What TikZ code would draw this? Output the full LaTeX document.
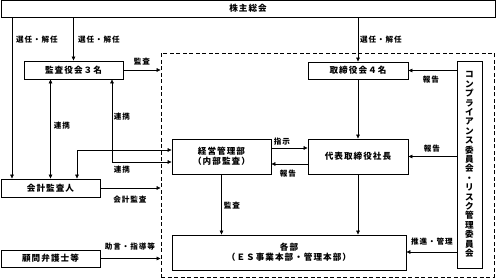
\documentclass[tikz,border=0pt]{standalone}
\usepackage{fontspec}
\setmainfont{Noto Sans CJK JP}[LetterSpace=12]
\usetikzlibrary{arrows.meta}

\begin{document}
\begin{tikzpicture}[
  x=1pt, y=-1pt,
  font=\fontsize{8.6}{10}\selectfont\bfseries,
  box/.style={draw, line width=0.6pt, inner sep=0pt, align=center},
  grp/.style={draw, dashed, dash pattern=on 4pt off 2.5pt, line width=0.6pt, inner sep=0pt},
  lbl/.style={font=\fontsize{7.6}{9}\selectfont\bfseries, inner sep=0pt},
  arr/.style={-{Latex[length=4pt,width=4pt]}, line width=0.5pt},
  barr/.style={{Latex[length=4pt,width=4pt]}-{Latex[length=4pt,width=4pt]}, line width=0.5pt}
]
\useasboundingbox (0,0) rectangle (496,280);

% top: shareholders
\node[box, minimum width=494pt, minimum height=17pt] (soukai) at (248,8.5) {株主総会};

% dashed frame of the executing side
\node[grp, minimum width=333pt, minimum height=224pt] (frame) at (327.5,165) {};

% left column
\node[box, minimum width=99pt, minimum height=18pt] (kansa) at (73.5,70) {監査役会３名};
\node[box, minimum width=99pt, minimum height=18pt] (kaikei) at (50.5,188) {会計監査人};
\node[box, minimum width=99pt, minimum height=17pt] (komon) at (50.5,258.5) {顧問弁護士等};

% inside the frame
\node[box, minimum width=100pt, minimum height=17pt] (torishi) at (358,70.5) {取締役会４名};
\node[box, minimum width=99pt, minimum height=35pt] (keiei) at (221.5,156.5) {経営管理部\\（内部監査）};
\node[box, minimum width=100pt, minimum height=35pt] (daihyo) at (358,156.5) {代表取締役社長};
\node[box, minimum width=234pt, minimum height=35pt] (kakubu) at (289,252.5) {各部\\（ＥＳ事業本部・管理本部）};
\node[box, minimum width=25pt, minimum height=207pt, font=\fontsize{8.6}{9.4}\selectfont\bfseries] (comp) at (469.5,164.5)
  {コ\\ン\\プ\\ラ\\イ\\ア\\ン\\ス\\委\\員\\会\\・\\リ\\ス\\ク\\管\\理\\委\\員\\会};

% election / dismissal
\draw[arr] (soukai.south -| 12,0) -- ([xshift=-38.5pt]kaikei.north);
\draw[arr] (soukai.south -| kansa) -- (kansa.north);
\draw[arr] (soukai.south -| torishi) -- (torishi.north);
\node[lbl] (sen1) at (37,40) {選任・解任};
\node[lbl] (sen2) at (99,40) {選任・解任};
\node[lbl] (sen3) at (381,40) {選任・解任};

% audit board links
\draw[arr] (kansa.east) -- (frame.west |- kansa.east);
\node[lbl] (l1) at (142,62) {監査};
\draw[barr] (kansa.south -| kaikei) -- (kaikei.north);
\node[lbl] (l2) at (62,126) {連携};
\draw[barr] ([xshift=38.5pt]kansa.south) |- ([yshift=-5.5pt]keiei.west);
\node[lbl] (l3) at (122,117) {連携};
\draw[barr] ([yshift=6.5pt]keiei.west) -| ([xshift=26.5pt]kaikei.north);
\node[lbl] (l4) at (122,170) {連携};

% external auditor and counsel
\draw[arr] (kaikei.east) -- (frame.west |- kaikei.east);
\node[lbl] (l5) at (130,200) {会計監査};
\draw[arr] (komon.east) -- (frame.west |- komon.east);
\node[lbl] (l6) at (130,247) {助言・指導等};

% executive line
\draw[arr] (torishi.south) -- (daihyo.north);
\draw[arr] (daihyo.south) -- (kakubu.north -| daihyo);
\draw[arr] ([yshift=-7.5pt]daihyo.west) -- ([yshift=-7.5pt]keiei.east);
\node[lbl] (l7) at (282,142) {指示};
\draw[arr] ([yshift=8.5pt]keiei.east) -- ([yshift=8.5pt]daihyo.west);
\node[lbl] (l8) at (288,174) {報告};
\draw[arr] (keiei.south) -- (kakubu.north -| keiei);
\node[lbl] (l9) at (232,206) {監査};

% committee reports
\draw[arr] (comp.west |- torishi.east) -- (torishi.east);
\node[lbl] (l10) at (431,80) {報告};
\draw[arr] (comp.west |- daihyo.east) -- (daihyo.east);
\node[lbl] (l11) at (432,149) {報告};
\draw[arr] (comp.west |- 0,252) -- (kakubu.east |- 0,252);
\node[lbl] (l12) at (432,242) {推進・管理};

\end{tikzpicture}
\end{document}
